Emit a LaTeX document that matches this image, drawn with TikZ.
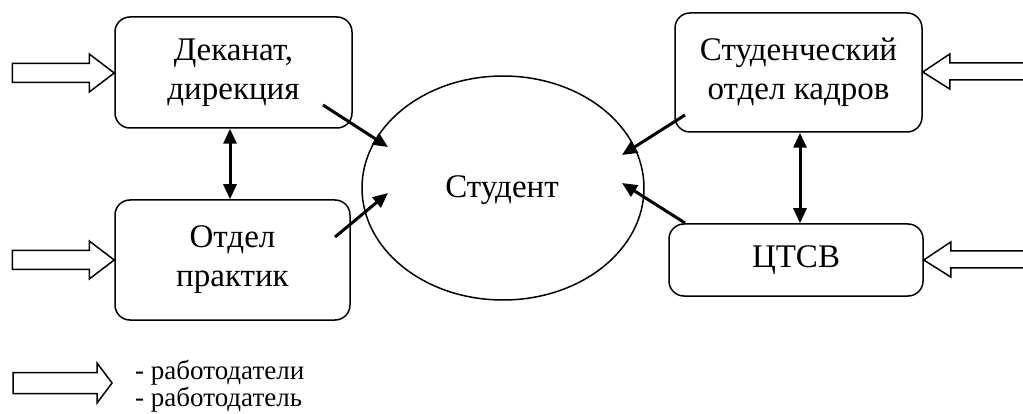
\documentclass[tikz,border=0pt]{standalone}
\usepackage{fontspec}
\setmainfont{Liberation Serif}
\usetikzlibrary{arrows.meta,shapes.geometric}
\tikzset{
  box/.style={draw, line width=1.5pt, rounded corners=15pt, align=center, inner sep=0pt,
    font=\fontsize{33}{39}\selectfont},
  oval/.style={draw, line width=1.5pt, ellipse, inner sep=0pt, font=\fontsize{33}{39}\selectfont},
  link/.style={line width=3pt, -{Triangle[length=15pt,width=13pt]}},
  dlink/.style={line width=3pt, {Triangle[length=15pt,width=13pt]}-{Triangle[length=15pt,width=13pt]}},
  hollow/.style={draw, line width=1.5pt, fill=white, line join=miter},
  legend/.style={font=\fontsize{27}{24}\selectfont, inner sep=0pt, align=left, anchor=base west}
}
\begin{document}
\begin{tikzpicture}[x=1pt,y=-1pt]
\useasboundingbox (0,0) rectangle (1023,414);
\clip (0,0) rectangle (1023,414);
% boxes
\node[box, minimum width=237pt, minimum height=111pt] (dek) at (233.5,72.5) {Деканат,\\дирекция};
\node[box, minimum width=235pt, minimum height=120pt] (otd) at (232.5,260) {Отдел\\практик};
\node[box, minimum width=247pt, minimum height=119pt] (kad) at (798.5,72.5) {Студенческий\\отдел кадров};
\node[box, minimum width=254pt, minimum height=72pt] (cts) at (796,260) {ЦТСВ};
\node[oval, minimum width=282pt, minimum height=224pt] (stu) at (503,188) {};
\node[font=\fontsize{33}{39}\selectfont, inner sep=0pt, anchor=base] (stulabel) at (502,198) {Студент};
% connector end points
\coordinate (s1) at (323,105); \coordinate (e1) at (388,147);
\coordinate (s2) at (335,237); \coordinate (e2) at (388,193);
\coordinate (s3) at (685,115); \coordinate (e3) at (622,155);
\coordinate (s4) at (685,223); \coordinate (e4) at (622,183);
\draw[link] (s1) -- (e1);
\draw[link] (s2) -- (e2);
\draw[link] (s3) -- (e3);
\draw[link] (s4) -- (e4);
\draw[dlink] (dek.south -| 230,0) -- (otd.north -| 230,0);
\draw[dlink] (kad.south -| 800,0) -- (cts.north -| 800,0);
% hollow arrows (employers)
\coordinate (t1) at (dek.west |- 0,73);
\coordinate (t2) at (otd.west |- 0,260);
\coordinate (t3) at (kad.east |- 0,72);
\coordinate (t4) at (cts.east |- 0,260);
\draw[hollow] (t1) -- ++(-25,-19) -- ++(0,9.5) -- ++(-77,0) -- ++(0,19) -- ++(77,0) -- ++(0,9.5) -- cycle;
\draw[hollow] (t2) -- ++(-25,-19) -- ++(0,9.5) -- ++(-77,0) -- ++(0,19) -- ++(77,0) -- ++(0,9.5) -- cycle;
\draw[hollow] (t3) -- ++(27,-18) -- ++(0,9) -- ++(110,0) -- ++(0,17) -- ++(-110,0) -- ++(0,9) -- cycle;
\draw[hollow] (t4) -- ++(27,-18) -- ++(0,9) -- ++(110,0) -- ++(0,17) -- ++(-110,0) -- ++(0,9) -- cycle;
% legend
\coordinate (t5) at (112,383);
\draw[hollow] (t5) -- ++(-15,-20) -- ++(0,9.5) -- ++(-84,0) -- ++(0,21) -- ++(84,0) -- ++(0,9.5) -- cycle;
\node[legend] (leg) at (135,406) {- работодатели\\- работодатель};
\end{tikzpicture}
\end{document}
